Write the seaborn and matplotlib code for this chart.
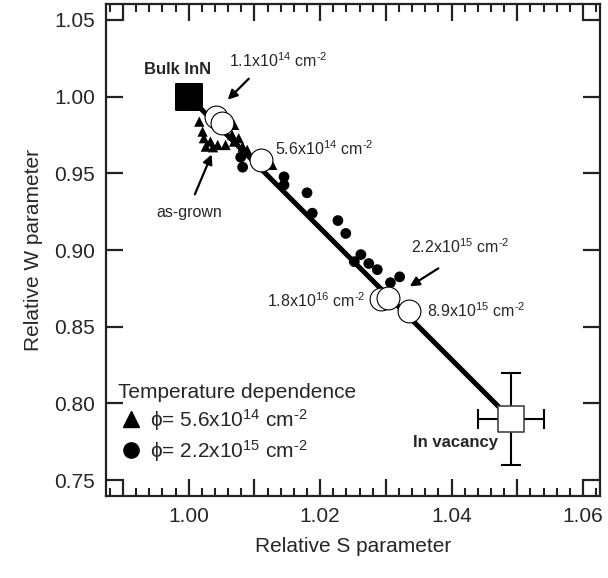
import matplotlib
matplotlib.use("Agg")
import matplotlib.pyplot as plt
from matplotlib.ticker import MultipleLocator, FuncFormatter
from matplotlib.lines import Line2D
import pandas as pd
import seaborn as sns

sns.set_style("ticks")
plt.rcParams['font.family'] = ['Liberation Sans', 'DejaVu Sans']
plt.rcParams['mathtext.fontset'] = 'custom'
plt.rcParams['mathtext.rm'] = 'Liberation Sans'
plt.rcParams['mathtext.it'] = 'Liberation Sans:italic'
plt.rcParams['mathtext.bf'] = 'Liberation Sans:bold'

# reference points
bulk_s = [1.000]
bulk_w = [1.000]
vac_s = [1.049]
vac_w = [0.790]
vac_s_err = [0.005]
vac_w_err = [0.030]

# irradiated samples (open circles)
irr_s = [1.0041, 1.0050, 1.0110, 1.0292, 1.0303, 1.0335]
irr_w = [0.9870, 0.9827, 0.9587, 0.8682, 0.8688, 0.8600]

# temperature dependence, phi = 5.6e14 (triangles)
tri_s = [1.0016, 1.0021, 1.0023, 1.0026, 1.0033, 1.0037, 1.0044, 1.0056, 1.0066,
         1.0069, 1.0069, 1.0076, 1.0082, 1.0089, 1.0127]
tri_w = [0.9837, 0.9772, 0.9729, 0.9674, 0.9707, 0.9670, 0.9685, 0.9685, 0.9750,
         0.9707, 0.9816, 0.9729, 0.9674, 0.9653, 0.9555]

# temperature dependence, phi = 2.2e15 (dots)
dot_s = [1.0079, 1.0082, 1.0145, 1.0145, 1.0180, 1.0188, 1.0227, 1.0239, 1.0252,
         1.0262, 1.0274, 1.0287, 1.0307, 1.0321]
dot_w = [0.9605, 0.9540, 0.9477, 0.9424, 0.9373, 0.9240, 0.9192, 0.9108, 0.8924,
         0.8970, 0.8912, 0.8872, 0.8787, 0.8825]

line_df = pd.DataFrame({"S": bulk_s + vac_s, "W": bulk_w + vac_w})

fig = plt.figure(figsize=(6.08, 5.78), dpi=100)
ax = fig.add_axes([106/608, 1 - 496/578, 494/608, 492/578])

sns.lineplot(data=line_df, x="S", y="W", color="black", lw=3.6, ax=ax, zorder=1)
sns.scatterplot(x=tri_s, y=tri_w, marker="^", s=55, color="black", edgecolor="none", ax=ax, zorder=2)
sns.scatterplot(x=dot_s, y=dot_w, marker="o", s=60, color="black", edgecolor="none", ax=ax, zorder=3)
sns.scatterplot(x=irr_s, y=irr_w, marker="o", s=270, color="white", edgecolor="black",
                linewidth=0.8, ax=ax, zorder=4)
ax.errorbar(vac_s, vac_w, xerr=vac_s_err, yerr=vac_w_err, fmt="none", ecolor="black",
            elinewidth=1.5, capsize=7, capthick=1.5, zorder=4)
sns.scatterplot(x=vac_s, y=vac_w, marker="s", s=330, color="white", edgecolor="#444444",
                linewidth=1.2, ax=ax, zorder=5)
sns.scatterplot(x=bulk_s, y=bulk_w, marker="s", s=330, color="black", edgecolor="black", ax=ax, zorder=5)

ax.set_xlim(0.9874, 1.0626)
ax.set_ylim(0.7396, 1.0604)
ax.xaxis.set_major_locator(MultipleLocator(0.01))
ax.xaxis.set_minor_locator(MultipleLocator(0.002))
ax.xaxis.set_major_formatter(FuncFormatter(lambda v, p: f"{v:.2f}" if round(v * 100) % 2 == 0 else ""))
ax.yaxis.set_major_locator(MultipleLocator(0.05))
ax.yaxis.set_major_formatter(FuncFormatter(lambda v, p: f"{v:.2f}"))
ax.tick_params(which="both", direction="in", top=True, right=True, labelsize=15, color="#222222")
ax.tick_params(which="major", length=12, width=1.6, pad=8)
ax.tick_params(which="minor", length=6, width=1.5)
for sp in ax.spines.values():
    sp.set_linewidth(1.6)
    sp.set_color("#222222")

ax.set_xlabel("Relative S parameter", fontsize=15, labelpad=8)
ax.set_ylabel("Relative W parameter", fontsize=15, labelpad=8)

sup = r"x10$^{%s}$ cm$^{\text{-}2}$"
ax.text(0.9983, 1.0174, "Bulk InN", fontsize=12, fontweight="bold", ha="center", va="center")
ax.text(1.0061, 1.0194, "1.1" + sup % "14", fontsize=11.5, ha="left", va="baseline")
ax.text(1.0132, 0.9620, "5.6" + sup % "14", fontsize=11.5, ha="left", va="baseline")
ax.text(1.0000, 0.9216, "as-grown", fontsize=11.5, ha="center", va="baseline")
ax.text(1.0338, 0.8983, "2.2" + sup % "15", fontsize=11.5, ha="left", va="baseline")
ax.text(1.0269, 0.8631, "1.8" + sup % "16", fontsize=11.5, ha="right", va="baseline")
ax.text(1.0363, 0.8566, "8.9" + sup % "15", fontsize=11.5, ha="left", va="baseline")
ax.text(1.0470, 0.7714, "In vacancy", fontsize=12, fontweight="bold", ha="right", va="baseline")

arrow = dict(arrowstyle="-|>", color="black", lw=1.6, mutation_scale=14)
ax.annotate("", xy=(1.00563, 0.9967), xytext=(1.00944, 1.0130), arrowprops=arrow)
ax.annotate("", xy=(1.00365, 0.9640), xytext=(1.00076, 0.9346), arrowprops=arrow)
ax.annotate("", xy=(1.03328, 0.8753), xytext=(1.03835, 0.8890), arrowprops=arrow)

handles = [Line2D([], [], marker="^", ls="", color="black", ms=11),
           Line2D([], [], marker="o", ls="", color="black", ms=11)]
labels = ["ϕ= 5.6" + sup % "14", "ϕ= 2.2" + sup % "15"]
leg = ax.legend(handles, labels, title="Temperature dependence", loc="lower left",
                bbox_to_anchor=(0.0, 0.04), frameon=False, fontsize=15, title_fontsize=15,
                alignment="left", handletextpad=0.3, handlelength=1.2, labelspacing=0.25,
                borderaxespad=0.2)

fig.savefig("out.png", dpi=100)
